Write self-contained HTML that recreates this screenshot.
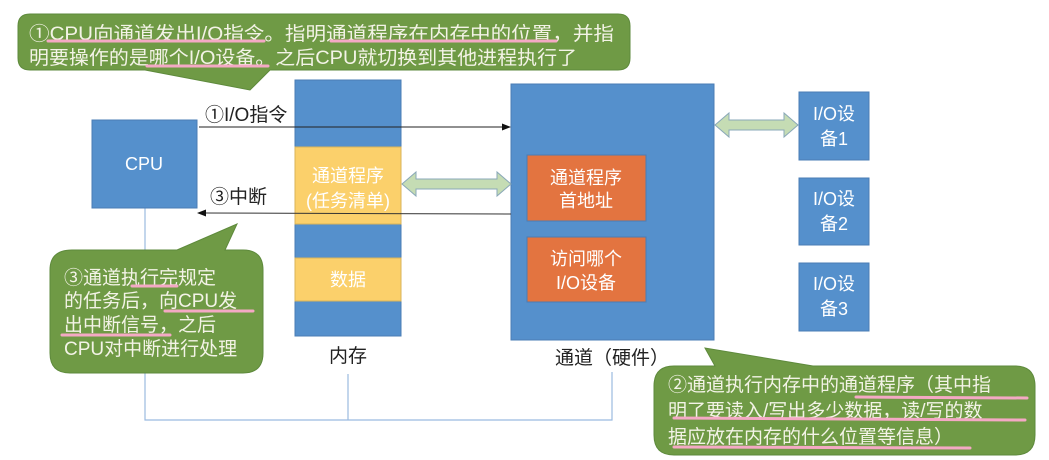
<!DOCTYPE html>
<html><head><meta charset="utf-8"><style>
html,body{margin:0;padding:0;background:#fff;}
svg{display:block;}
text{font-family:"Liberation Sans","Noto Sans CJK SC",sans-serif;}
.w{fill:#f3f3e6;font-size:19px;}
.b{fill:#222;font-size:19px;}
.u{stroke:#f4a9c4;stroke-width:3;stroke-linecap:round;}
</style></head><body>
<svg width="1049" height="460" viewBox="0 0 1049 460" xmlns="http://www.w3.org/2000/svg">
<g stroke="#9bbbe0" stroke-width="1.2" fill="none">
<polyline points="145,208 145,420 612,420 612,372"/>
<line x1="348" y1="374" x2="348" y2="420"/>
</g>
<rect x="92" y="120" width="105" height="88" fill="#5590cc" stroke="#4a7db5"/>
<text x="144" y="170" text-anchor="middle" fill="#fff" font-size="18">CPU</text>
<rect x="295" y="80" width="106" height="256" fill="#5590cc" stroke="#4a7db5"/>
<rect x="295" y="147" width="106" height="77" fill="#fbd06b" stroke="#d9b35a"/>
<rect x="295" y="258" width="106" height="43" fill="#fbd06b" stroke="#d9b35a"/>
<text x="348" y="182" text-anchor="middle" fill="#fff" font-size="18">通道程序</text>
<text x="348" y="207" text-anchor="middle" fill="#fff" font-size="18">(任务清单)</text>
<text x="348" y="286" text-anchor="middle" fill="#fff" font-size="18">数据</text>
<text x="348" y="362" text-anchor="middle" class="b">内存</text>
<rect x="511" y="84" width="203" height="256" fill="#5590cc" stroke="#4a7db5"/>
<rect x="527" y="155" width="119" height="66" fill="#e37440" stroke="#4a7db5"/>
<rect x="527" y="237" width="119" height="65" fill="#e37440" stroke="#4a7db5"/>
<text x="586" y="184" text-anchor="middle" fill="#fff" font-size="18">通道程序</text>
<text x="586" y="207" text-anchor="middle" fill="#fff" font-size="18">首地址</text>
<text x="586" y="265" text-anchor="middle" fill="#fff" font-size="18">访问哪个</text>
<text x="586" y="289" text-anchor="middle" fill="#fff" font-size="18">I/O设备</text>
<text x="612" y="364" text-anchor="middle" class="b">通道（硬件）</text>
<g fill="#5590cc" stroke="#4a7db5">
<rect x="799" y="92" width="70" height="68"/>
<rect x="799" y="178" width="70" height="67"/>
<rect x="799" y="263" width="70" height="68"/>
</g>
<g fill="#fff" font-size="18" text-anchor="middle">
<text x="834" y="120">I/O设</text><text x="834" y="145">备1</text>
<text x="834" y="205">I/O设</text><text x="834" y="230">备2</text>
<text x="834" y="290">I/O设</text><text x="834" y="315">备3</text>
</g>
<g fill="#c5dcb4" stroke="#8aa8b8" stroke-width="1">
<polygon points="402,184 416,172 416,179 497,179 497,172 511,184 497,196 497,189 416,189 416,196"/>
<polygon points="715,125 729,113 729,120 784,120 784,113 798,125 784,137 784,130 729,130 729,137"/>
</g>
<line x1="199" y1="127" x2="505" y2="127" stroke="#222" stroke-width="1"/>
<polygon points="511,127 502,123.5 502,130.5" fill="#111"/>
<line x1="203" y1="213" x2="511" y2="214" stroke="#333" stroke-width="1"/>
<polygon points="197,213 206,209.5 206,216.5" fill="#111"/>
<text x="205" y="121" class="b">①I/O指令</text>
<text x="210" y="203" class="b">③中断</text>
<!-- callout 1 -->
<path d="M30,14 H618 Q630,14 630,26 V58 Q630,70 618,70 H270 L250,90 L145,70 H30 Q18,70 18,58 V26 Q18,14 30,14 Z" fill="#6f9a45" stroke="#5e8a3c"/>
<text x="29" y="40" class="w" font-size="20" textLength="585" lengthAdjust="spacingAndGlyphs">①CPU向通道发出I/O指令。指明通道程序在内存中的位置，并指</text>
<text x="29" y="64" class="w" font-size="20" textLength="548" lengthAdjust="spacingAndGlyphs">明要操作的是哪个I/O设备。之后CPU就切换到其他进程执行了</text>
<line class="u" x1="48" y1="41" x2="264" y2="41"/>
<line class="u" x1="331" y1="41" x2="556" y2="41"/>
<line class="u" x1="147" y1="66" x2="268" y2="66"/>
<!-- callout 3 -->
<path d="M72,250 H177 L237,224 L225,250 H243 Q263,250 263,270 V353 Q263,373 243,373 H70 Q50,373 50,353 V270 Q50,250 72,250 Z" fill="#6f9a45" stroke="#5e8a3c"/>
<text x="64" y="284" class="w" font-size="20">③通道执行完规定</text>
<text x="64" y="307" class="w" font-size="20">的任务后，向CPU发</text>
<text x="64" y="331" class="w" font-size="20">出中断信号，之后</text>
<text x="64" y="355" class="w" font-size="20">CPU对中断进行处理</text>
<line class="u" x1="132" y1="286" x2="177" y2="286"/>
<line class="u" x1="165" y1="311" x2="253" y2="311"/>
<line class="u" x1="62" y1="335" x2="170" y2="335"/>
<!-- callout 2 -->
<path d="M674,366 H715 L705,348 L813,366 H1015 Q1035,366 1035,386 V435 Q1035,455 1015,455 H674 Q654,455 654,435 V386 Q654,366 674,366 Z" fill="#6f9a45" stroke="#5e8a3c"/>
<text x="668" y="391" class="w" font-size="20">②通道执行内存中的通道程序（其中指</text>
<text x="668" y="417" class="w" font-size="20">明了要读入/写出多少数据，读/写的数</text>
<text x="668" y="443" class="w" font-size="20">据应放在内存的什么位置等信息）</text>
<line class="u" x1="856" y1="397" x2="1027" y2="398"/>
<line class="u" x1="674" y1="418" x2="1025" y2="420"/>
<line class="u" x1="674" y1="447" x2="970" y2="448"/>
</svg>
</body></html>
